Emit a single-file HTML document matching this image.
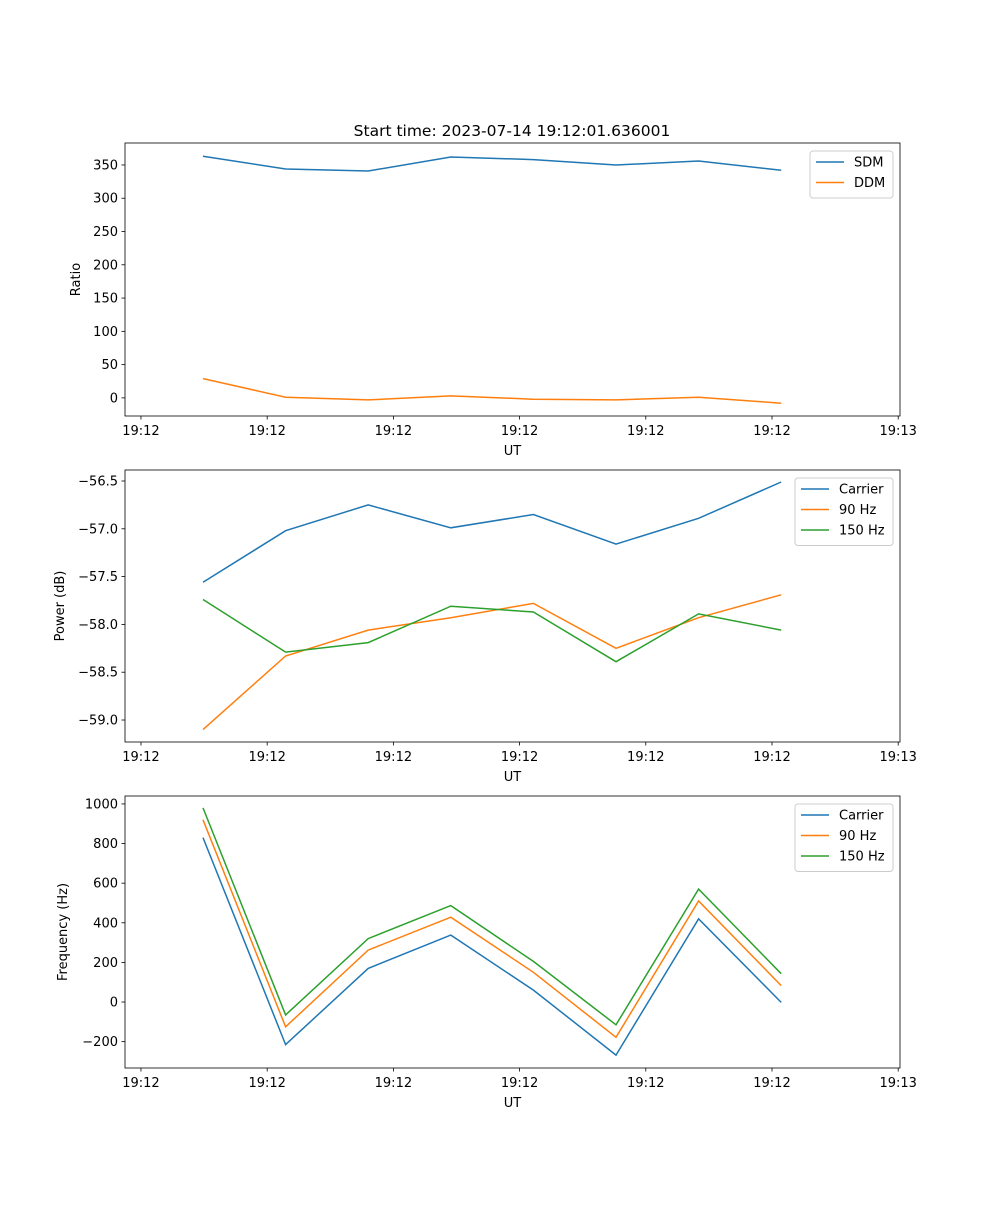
<!DOCTYPE html>
<html><head><meta charset="utf-8"><style>
html,body{margin:0;padding:0;background:#fff}
svg text{font-family:"DejaVu Sans","Liberation Sans",sans-serif;fill:#000}
</style></head><body>
<svg id="fig" width="1000" height="1200" viewBox="0 0 1000 1200" xmlns="http://www.w3.org/2000/svg">
<rect width="1000" height="1200" fill="#fff"/>
<text x="512" y="136" font-size="15.5" text-anchor="middle">Start time: 2023-07-14 19:12:01.636001</text>
</svg>
<script>
const times = [0, 1, 2, 3, 4, 5, 6, 7];
const xTickLabels = ["19:12","19:12","19:12","19:12","19:12","19:12","19:12"];
const xTickValues = [-0.7506, 0.7772, 2.305, 3.8328, 5.3606, 6.8884, 8.4162];
const xTickLabelsLast = "19:13";
const sdm = [363, 344, 341, 362, 358, 350, 356, 342];
const ddm = [29, 1, -3, 3, -2, -3, 1, -8];
const powCarrier = [-57.56, -57.02, -56.75, -56.99, -56.85, -57.16, -56.89, -56.51];
const pow90 = [-59.10, -58.33, -58.06, -57.93, -57.78, -58.25, -57.93, -57.69];
const pow150 = [-57.74, -58.29, -58.19, -57.81, -57.87, -58.39, -57.89, -58.06];
const freqCarrier = [830, -215, 170, 338, 60, -268, 420, -2];
const freq90 = [920, -125, 262, 428, 150, -178, 510, 83];
const freq150 = [980, -65, 320, 487, 205, -115, 570, 143];
const ratioTicks = [0, 50, 100, 150, 200, 250, 300, 350];
const powerTicks = [-59.0, -58.5, -58.0, -57.5, -57.0, -56.5];
const freqTicks = [-200, 0, 200, 400, 600, 800, 1000];

const NS = "http://www.w3.org/2000/svg";
const svg = document.getElementById("fig");
const C = {blue:"#1f77b4", orange:"#ff7f0e", green:"#2ca02c"};
function mk(tag, attrs, parent){const e=document.createElementNS(NS,tag);for(const k in attrs)e.setAttribute(k,attrs[k]);(parent||svg).appendChild(e);return e;}
const L=125,R=900,xMin=-0.944,xMax=8.438;
const xs = t => L + (t - xMin)/(xMax - xMin)*(R-L);
const FS=13;

function panel(name, top, bot, yMin, yMax, yTicks, fmt, ylabel, series, legend){
  const g = mk("g",{});
  
  
  const ys = v => bot - (v - yMin)/(yMax - yMin)*(bot-top);
  series.forEach(s=>{
    const p = mk("polyline",{points:s.data.map((v,i)=>xs(times[i]).toFixed(1)+","+ys(v).toFixed(1)).join(" "),fill:"none",stroke:s.color,"stroke-width":1.5},g);
    
    
  });
  mk("rect",{x:L,y:top,width:R-L,height:bot-top,fill:"none",stroke:"#000","stroke-width":0.8},g);
  yTicks.forEach(v=>{
    const y=ys(v);
    mk("line",{x1:L-3.5,x2:L,y1:y,y2:y,stroke:"#000","stroke-width":0.8},g);
    const t=mk("text",{x:L-7,y:y+4.5,"font-size":FS,"text-anchor":"end"},g);
    t.textContent=fmt(v);
    
    
  });
  xTickValues.forEach((tv,i)=>{
    const x=xs(tv);
    mk("line",{x1:x,x2:x,y1:bot,y2:bot+3.5,stroke:"#000","stroke-width":0.8},g);
    const t=mk("text",{x:x,y:bot+19,"font-size":FS,"text-anchor":"middle"},g);
    t.textContent = i===xTickValues.length-1 ? xTickLabelsLast : xTickLabels[i];
    
    
  });
  const xl=mk("text",{x:(L+R)/2,y:bot+39,"font-size":FS,"text-anchor":"middle"},g);
  xl.textContent="UT";
  
  
  const cy=(top+bot)/2;
  const yl=mk("text",{x:0,y:0,"font-size":FS,"text-anchor":"middle",transform:`translate(${legend.ylx},${cy}) rotate(-90)`},g);
  yl.textContent=ylabel;
  
  
  const lg=mk("g",{},g);
  
  
  const h=6+series.length*20.5;
  mk("rect",{x:legend.x,y:top+8,width:R-7-legend.x,height:h,rx:3,fill:"#fff","fill-opacity":0.8,stroke:"#ccc"},lg);
  series.forEach((s,i)=>{
    const y=top+19+i*20.5;
    mk("line",{x1:legend.x+6,x2:legend.x+34,y1:y,y2:y,stroke:s.color,"stroke-width":1.5},lg);
    const t=mk("text",{x:legend.x+44,y:y+4.5,"font-size":FS},lg);
    t.textContent=s.label;
    
    
  });
}
panel("ratio",143,416,-27.2,383,ratioTicks,v=>String(v),"Ratio",
  [{key:"sdm",label:"SDM",color:C.blue,data:sdm},{key:"ddm",label:"DDM",color:C.orange,data:ddm}],{x:810,ylx:80});
panel("power",470,742,-59.23,-56.385,powerTicks,v=>v.toFixed(1).replace("-","\u2212"),"Power (dB)",
  [{key:"carrier",label:"Carrier",color:C.blue,data:powCarrier},{key:"90hz",label:"90 Hz",color:C.orange,data:pow90},{key:"150hz",label:"150 Hz",color:C.green,data:pow150}],{x:795,ylx:64});
panel("frequency",796,1068,-333,1040,freqTicks,v=>String(v).replace("-","\u2212"),"Frequency (Hz)",
  [{key:"carrier",label:"Carrier",color:C.blue,data:freqCarrier},{key:"90hz",label:"90 Hz",color:C.orange,data:freq90},{key:"150hz",label:"150 Hz",color:C.green,data:freq150}],{x:795,ylx:67});
</script>
</body></html>
